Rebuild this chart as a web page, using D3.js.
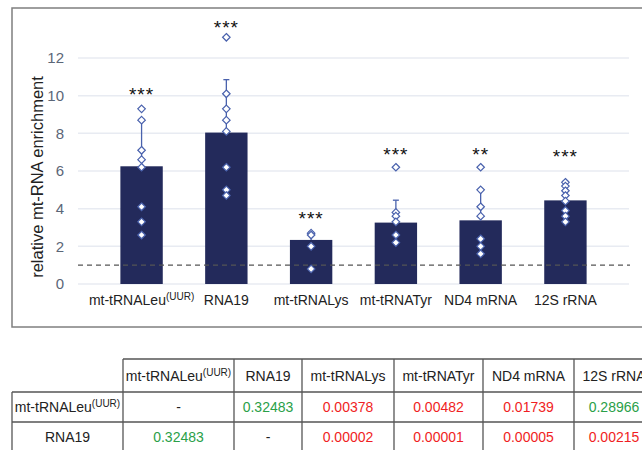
<!DOCTYPE html>
<html>
<head>
<meta charset="utf-8">
<script src="https://cdn.jsdelivr.net/npm/d3@7"></script>
<style>
  body { margin: 0; background: #fff; }
  svg { display: block; font-family: "Liberation Sans", Arial, sans-serif; }
</style>
</head>
<body>
<div id="chart"></div>
<script>
// chart data
var categories = ["mt-tRNALeu", "RNA19", "mt-tRNALys", "mt-tRNATyr", "ND4 mRNA", "12S rRNA"];
var superscripts = ["(UUR)", "", "", "", "", ""];
var means = [6.25, 8.04, 2.34, 3.26, 3.38, 4.44];
var errorTops = [8.75, 10.85, 2.75, 4.45, 5.0, 5.45];
var points = [
  [9.3, 8.7, 7.1, 6.6, 6.2, 4.1, 3.3, 2.6],
  [13.1, 10.1, 9.3, 8.7, 8.1, 6.2, 5.0, 4.7],
  [2.7, 2.6, 2.0, 0.8],
  [6.2, 3.8, 3.6, 3.3, 2.6, 2.2],
  [6.2, 5.0, 4.1, 3.6, 2.4, 2.0, 1.6],
  [5.4, 5.2, 4.95, 4.7, 4.4, 3.9, 3.6, 3.3]
];
var stars = ["***", "***", "***", "***", "**", "***"];
var starLevels = [10.3, 13.85, 3.7, 7.1, 7.1, 7.0];
var baseline = 1;
var yTicks = [0, 2, 4, 6, 8, 10, 12];

// p-value table
var tableHeader = ["", "mt-tRNALeu", "RNA19", "mt-tRNALys", "mt-tRNATyr", "ND4 mRNA", "12S rRNA"];
var tableHeaderSup = ["", "(UUR)", "", "", "", "", ""];
var rowLabels = ["mt-tRNALeu", "RNA19"];
var rowLabelSup = ["(UUR)", ""];
var pValues = [
  [null, 0.32483, 0.00378, 0.00482, 0.01739, 0.28966],
  [0.32483, null, 0.00002, 0.00001, 0.00005, 0.00215]
];

var width = 642, height = 450;
var svg = d3.select("#chart").append("svg").attr("width", width).attr("height", height);

// chart frame
svg.append("rect").attr("x", 12).attr("y", 8).attr("width", 640).attr("height", 319)
  .attr("fill", "none").attr("stroke", "#7f7f7f").attr("stroke-width", 1.5);

var x = d3.scaleBand().domain(categories).range([78, 629]).padding(0.5);
var y = d3.scaleLinear().domain([0, 12]).range([284, 58]);

// gridlines
svg.append("g").selectAll("line").data(yTicks).enter().append("line")
  .attr("x1", 78).attr("x2", 629)
  .attr("y1", function(d) { return y(d); }).attr("y2", function(d) { return y(d); })
  .attr("stroke", "#e8ebf2").attr("stroke-width", 1.5);

// y axis
var yAxis = svg.append("g").attr("transform", "translate(66,0)")
  .call(d3.axisLeft(y).tickValues(yTicks).tickSize(0).tickPadding(2));
yAxis.select(".domain").remove();
yAxis.selectAll("text").attr("font-size", 15).attr("fill", "#5b6677")
  .attr("font-family", "Liberation Sans, Arial, sans-serif");

svg.append("text")
  .attr("transform", "translate(43,177) rotate(-90)")
  .attr("text-anchor", "middle").attr("font-size", 16.5).attr("fill", "#222")
  .text("relative mt-RNA enrichment");

// bars
svg.append("g").selectAll("rect").data(categories).enter().append("rect")
  .attr("x", function(d) { return x(d); })
  .attr("y", function(d, i) { return y(means[i]); })
  .attr("width", x.bandwidth())
  .attr("height", function(d, i) { return y(0) - y(means[i]); })
  .attr("fill", "#232a5b");

// error bars (upper)
var err = svg.append("g").attr("stroke", "#4a62ad").attr("stroke-width", 1.3);
categories.forEach(function(c, i) {
  var cx = x(c) + x.bandwidth() / 2;
  err.append("line").attr("x1", cx).attr("x2", cx).attr("y1", y(means[i])).attr("y2", y(errorTops[i]));
  err.append("line").attr("x1", cx - 3).attr("x2", cx + 3).attr("y1", y(errorTops[i])).attr("y2", y(errorTops[i]));
});

// baseline dashed
svg.append("line").attr("x1", 78).attr("x2", 630)
  .attr("y1", y(baseline)).attr("y2", y(baseline))
  .attr("stroke", "#555").attr("stroke-width", 1.3).attr("stroke-dasharray", "5,4");

// individual points as diamonds
var diamond = d3.symbol().type(d3.symbolDiamond2).size(36);
categories.forEach(function(c, i) {
  var cx = x(c) + x.bandwidth() / 2;
  svg.append("g").selectAll("path").data(points[i]).enter().append("path")
    .attr("d", diamond)
    .attr("transform", function(d) { return "translate(" + cx + "," + y(d) + ")"; })
    .attr("fill", "#fff").attr("stroke", "#4a62ad").attr("stroke-width", 1.2);
});

// significance stars
svg.append("g").selectAll("text").data(stars).enter().append("text")
  .attr("x", function(d, i) { return x(categories[i]) + x.bandwidth() / 2; })
  .attr("y", function(d, i) { return y(starLevels[i]) + 11; })
  .attr("text-anchor", "middle").attr("font-size", 19).attr("fill", "#111")
  .attr("letter-spacing", 1)
  .text(function(d) { return d; });

// x labels
var xl = svg.append("g").selectAll("text").data(categories).enter().append("text")
  .attr("x", function(d) { return x(d) + x.bandwidth() / 2; })
  .attr("y", 305).attr("text-anchor", "middle").attr("font-size", 14).attr("fill", "#222");
xl.append("tspan").text(function(d) { return d; });
xl.append("tspan").attr("dy", -5).attr("font-size", 10)
  .text(function(d, i) { return superscripts[i]; });

// ---- table ----
var colEdges = [12, 123, 234, 302, 394, 483, 574, 654];
var rowEdges = [359, 392, 422, 452];
var tbl = svg.append("g");
var lineColor = "#555";

function cellText(g, cx, cy, txt, sup, color) {
  var t = g.append("text").attr("x", cx).attr("y", cy + 5).attr("text-anchor", "middle")
    .attr("font-size", 14).attr("fill", color);
  t.append("tspan").text(txt);
  if (sup) t.append("tspan").attr("dy", -5).attr("font-size", 10).text(sup);
}

// horizontal lines
rowEdges.forEach(function(ry, r) {
  tbl.append("line").attr("x1", r === 0 ? colEdges[1] : colEdges[0]).attr("x2", width)
    .attr("y1", ry).attr("y2", ry).attr("stroke", lineColor).attr("stroke-width", 1.3);
});
// vertical lines
colEdges.forEach(function(cx, c) {
  tbl.append("line").attr("x1", cx).attr("x2", cx)
    .attr("y1", c === 0 ? rowEdges[1] : rowEdges[0]).attr("y2", height)
    .attr("stroke", lineColor).attr("stroke-width", 1.3);
});

tableHeader.forEach(function(h, c) {
  if (!h) return;
  cellText(tbl, (colEdges[c] + colEdges[c + 1]) / 2, (rowEdges[0] + rowEdges[1]) / 2, h, tableHeaderSup[c], "#222");
});
rowLabels.forEach(function(lbl, r) {
  var cy = (rowEdges[r + 1] + rowEdges[r + 2]) / 2;
  cellText(tbl, (colEdges[0] + colEdges[1]) / 2, cy, lbl, rowLabelSup[r], "#222");
  pValues[r].forEach(function(p, c) {
    var cx = (colEdges[c + 1] + colEdges[c + 2]) / 2;
    if (p === null) cellText(tbl, cx, cy, "-", "", "#222");
    else cellText(tbl, cx, cy, p.toFixed(5), "", p < 0.05 ? "#f01e23" : "#2aa048");
  });
});
</script>
</body>
</html>
